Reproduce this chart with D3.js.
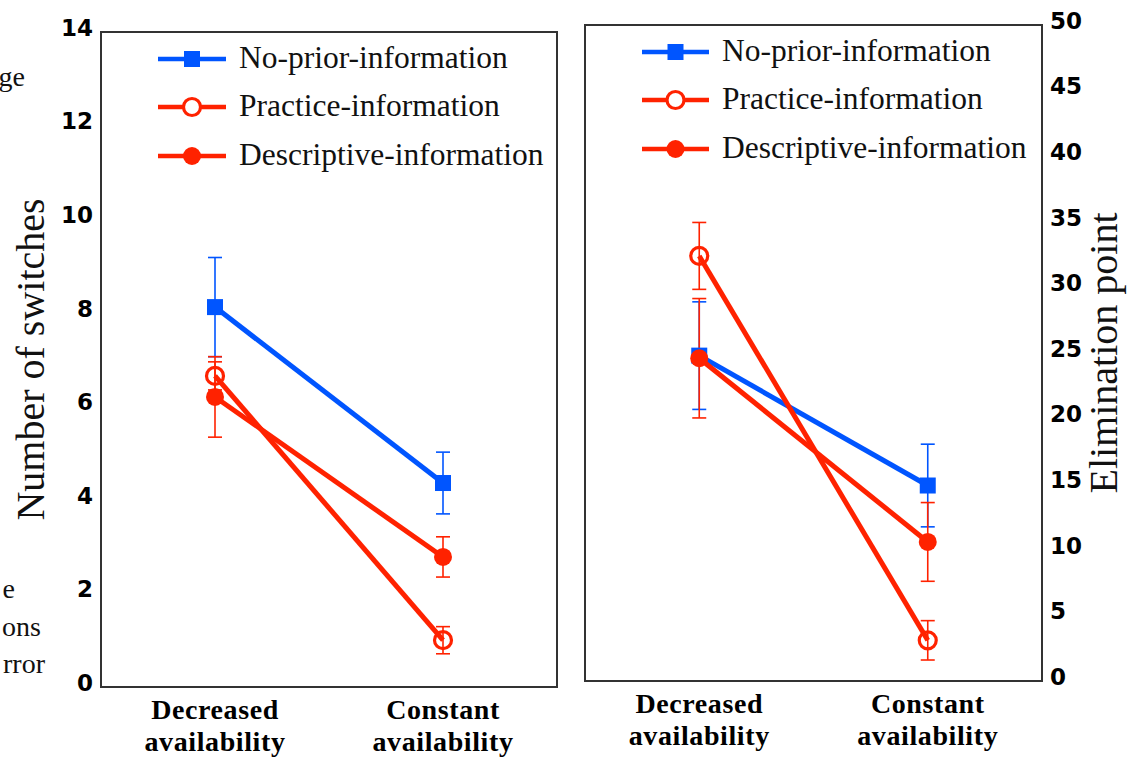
<!DOCTYPE html>
<html>
<head>
<meta charset="utf-8">
<script src="https://cdn.jsdelivr.net/npm/d3@7"></script>
<style>
  html, body { margin: 0; padding: 0; background: #fff; }
  svg { display: block; }
</style>
</head>
<body>
<svg id="chart" width="1137" height="760"></svg>
<script>
// Conditions on the x axis
const categories = ["Decreased availability", "Constant availability"];
const seriesNames = ["No-prior-information", "Practice-information", "Descriptive-information"];

// Number of switches (mean and error half-width per condition)
const switchesNoPrior = [8.12, 4.36];
const switchesNoPriorErr = [1.06, 0.66];
const switchesPractice = [6.65, 1.00];
const switchesPracticeErr = [0.30, 0.29];
const switchesDescriptive = [6.20, 2.78];
const switchesDescriptiveErr = [0.86, 0.43];
const switchesTicks = [0, 2, 4, 6, 8, 10, 12, 14];

// Elimination point (mean and error half-width per condition)
const elimNoPrior = [24.8, 14.9];
const elimNoPriorErr = [4.1, 3.15];
const elimPractice = [32.4, 3.1];
const elimPracticeErr = [2.55, 1.5];
const elimDescriptive = [24.6, 10.6];
const elimDescriptiveErr = [4.55, 3.0];
const elimTicks = [0, 5, 10, 15, 20, 25, 30, 35, 40, 45, 50];

const BLUE = "#0055ff";
const RED = "#ff2200";
const SERIF = "'Liberation Serif', 'Times New Roman', serif";
const seriesStyle = [
  { color: BLUE, marker: "square" },
  { color: RED, marker: "open" },
  { color: RED, marker: "dot" }
];

const svg = d3.select("#chart");

// Stray caption text from the neighbouring column
[["ge", 25, 86], ["e", 15, 598], ["ons", 41, 636], ["rror", 45, 673]].forEach(([t, x, y]) => {
  svg.append("text").attr("x", x).attr("y", y).attr("text-anchor", "end")
    .attr("font-family", SERIF).attr("font-size", 28).attr("fill", "#111").text(t);
});

const panels = [
  {
    box: { x0: 101, x1: 557, y0: 32, y1: 687 },
    domain: [0, 14], ticks: switchesTicks, side: "left",
    title: "Number of switches", titleX: 44,
    legend: { x0: 158, x1: 226, textX: 239, y: [59, 107, 156] },
    series: [
      { values: switchesNoPrior, err: switchesNoPriorErr },
      { values: switchesPractice, err: switchesPracticeErr },
      { values: switchesDescriptive, err: switchesDescriptiveErr }
    ]
  },
  {
    box: { x0: 585, x1: 1042, y0: 25, y1: 681 },
    domain: [0, 50], ticks: elimTicks, side: "right",
    title: "Elimination point", titleX: 1117,
    legend: { x0: 642, x1: 709, textX: 722, y: [52, 100, 149] },
    series: [
      { values: elimNoPrior, err: elimNoPriorErr },
      { values: elimPractice, err: elimPracticeErr },
      { values: elimDescriptive, err: elimDescriptiveErr }
    ]
  }
];

function drawMarker(g, style, x, y, legend) {
  if (style.marker === "square") {
    g.append("rect").attr("x", x - 8).attr("y", y - 8).attr("width", 16).attr("height", 16)
      .attr("fill", style.color);
  } else if (style.marker === "open") {
    g.append("circle").attr("cx", x).attr("cy", y).attr("r", 8.5)
      .attr("fill", legend ? "#fff" : "none").attr("stroke", style.color).attr("stroke-width", 3.2);
  } else {
    g.append("circle").attr("cx", x).attr("cy", y).attr("r", 9).attr("fill", style.color);
  }
}

panels.forEach(p => {
  const b = p.box;
  const x = d3.scalePoint().domain(categories).range([b.x0, b.x1]).padding(0.5);
  const y = d3.scaleLinear().domain(p.domain).range([b.y1, b.y0]);

  // Frame
  svg.append("rect").attr("x", b.x0).attr("y", b.y0)
    .attr("width", b.x1 - b.x0).attr("height", b.y1 - b.y0)
    .attr("fill", "none").attr("stroke", "#333").attr("stroke-width", 2);

  // Value axis (labels only)
  const axis = (p.side === "left" ? d3.axisLeft(y) : d3.axisRight(y))
    .tickValues(p.ticks).tickSize(0).tickPadding(0);
  const ag = svg.append("g")
    .attr("transform", `translate(${p.side === "left" ? b.x0 - 8 : b.x1 + 8},-4)`)
    .call(axis);
  ag.select(".domain").remove();
  ag.selectAll("text")
    .attr("font-family", "'DejaVu Sans', sans-serif").attr("font-weight", "bold")
    .attr("font-size", 23).attr("fill", "#000");

  // Category axis labels, two lines each
  const cg = svg.append("g").attr("transform", `translate(0,${b.y1})`);
  categories.forEach(c => {
    const words = c.split(" ");
    const t = cg.append("text").attr("x", x(c)).attr("text-anchor", "middle")
      .attr("font-family", SERIF).attr("font-weight", "bold")
      .attr("font-size", 28).attr("letter-spacing", 0.6).attr("fill", "#000");
    words.forEach((w, i) => {
      t.append("tspan").attr("x", x(c)).attr("y", 32 + i * 32).text(w);
    });
  });

  // Axis title
  svg.append("text")
    .attr("transform", `translate(${p.titleX},${(b.y0 + b.y1) / 2}) rotate(-90)`)
    .attr("text-anchor", "middle")
    .attr("font-family", SERIF)
    .attr("font-size", 40).attr("fill", "#111").text(p.title);

  const plot = svg.append("g");

  // Error bars
  p.series.forEach((s, si) => {
    const st = seriesStyle[si];
    categories.forEach((c, ci) => {
      const cx = x(c);
      const lo = y(s.values[ci] - s.err[ci]);
      const hi = y(s.values[ci] + s.err[ci]);
      plot.append("line").attr("x1", cx).attr("x2", cx).attr("y1", lo).attr("y2", hi)
        .attr("stroke", st.color).attr("stroke-width", 1.6);
      [lo, hi].forEach(yy => {
        plot.append("line").attr("x1", cx - 7).attr("x2", cx + 7).attr("y1", yy).attr("y2", yy)
          .attr("stroke", st.color).attr("stroke-width", 1.6);
      });
    });
  });

  // Lines and markers
  const line = d3.line().x(d => x(d.c)).y(d => y(d.v));
  p.series.forEach((s, si) => {
    const st = seriesStyle[si];
    const pts = categories.map((c, ci) => ({ c, v: s.values[ci] }));
    plot.append("path").datum(pts).attr("d", line)
      .attr("fill", "none").attr("stroke", st.color).attr("stroke-width", 5);
    pts.forEach(d => drawMarker(plot, st, x(d.c), y(d.v), false));
  });

  // Legend
  const lg = svg.append("g");
  seriesNames.forEach((name, si) => {
    const st = seriesStyle[si];
    const ly = p.legend.y[si];
    lg.append("line").attr("x1", p.legend.x0).attr("x2", p.legend.x1)
      .attr("y1", ly).attr("y2", ly).attr("stroke", st.color).attr("stroke-width", 4.5);
    drawMarker(lg, st, (p.legend.x0 + p.legend.x1) / 2, ly, true);
    lg.append("text").attr("x", p.legend.textX).attr("y", ly + 9)
      .attr("font-family", SERIF)
      .attr("font-size", 31.5).attr("fill", "#111").text(name);
  });
});
</script>
</body>
</html>
